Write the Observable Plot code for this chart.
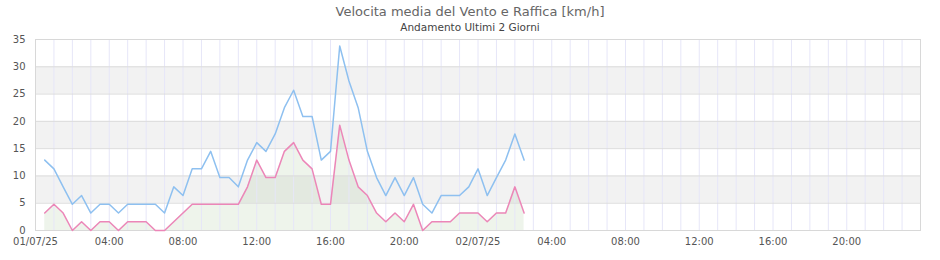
<!DOCTYPE html>
<html>
<head>
<meta charset="utf-8">
<script src="https://cdn.jsdelivr.net/npm/d3@7"></script>
<script src="https://cdn.jsdelivr.net/npm/@observablehq/plot@0.6"></script>
<style>
  html, body { margin: 0; padding: 0; background: #fff; }
</style>
</head>
<body>
<div id="chart"></div>
<script>
// --- Data (km/h), one reading every 30 minutes from 01/07/25 00:30 ---
const startTime = Date.UTC(2025, 6, 1, 0, 30);
const stepMinutes = 30;

const gustValues = [
  12.9, 11.3, 8.0, 4.8, 6.4, 3.2, 4.8, 4.8, 3.2, 4.8,
  4.8, 4.8, 4.8, 3.2, 8.0, 6.4, 11.3, 11.3, 14.5, 9.7,
  9.7, 8.0, 12.9, 16.1, 14.5, 17.7, 22.5, 25.7, 20.9, 20.9,
  12.9, 14.5, 33.8, 27.4, 22.5, 14.5, 9.7, 6.4, 9.7, 6.4,
  9.7, 4.8, 3.2, 6.4, 6.4, 6.4, 8.0, 11.3, 6.4, 9.7,
  12.9, 17.7, 12.9
];

const meanValues = [
  3.2, 4.8, 3.2, 0, 1.6, 0, 1.6, 1.6, 0, 1.6,
  1.6, 1.6, 0, 0, 1.6, 3.2, 4.8, 4.8, 4.8, 4.8,
  4.8, 4.8, 8.0, 12.9, 9.7, 9.7, 14.5, 16.1, 12.9, 11.3,
  4.8, 4.8, 19.3, 12.9, 8.0, 6.4, 3.2, 1.6, 3.2, 1.6,
  4.8, 0, 1.6, 1.6, 1.6, 3.2, 3.2, 3.2, 1.6, 3.2,
  3.2, 8.0, 3.2
];

const yTicks = [0, 5, 10, 15, 20, 25, 30, 35];
const grayBandStarts = [5, 15, 25];
const titleText = "Velocita media del Vento e Raffica [km/h]";
const subtitleText = "Andamento Ultimi 2 Giorni";

// --- Build table ---
const data = gustValues.map((g, i) => ({
  t: new Date(startTime + i * stepMinutes * 60000),
  gust: g,
  mean: meanValues[i]
}));

const x0 = new Date(Date.UTC(2025, 6, 1, 0, 0));
const x1 = new Date(Date.UTC(2025, 6, 3, 0, 0));
const xTicks = d3.utcHour.every(4).range(x0, x1);
const hourGrid = d3.utcHour.every(1).range(x0, d3.utcHour.offset(x1, 1));
const fmtDay = d3.utcFormat("%d/%m/%y");
const fmtHour = d3.utcFormat("%H:%M");
const tickFormat = d => (d.getUTCHours() === 0 ? fmtDay(d) : fmtHour(d));

const bands = grayBandStarts.map(s => ({ lo: s, hi: s + 5 }));

const chart = Plot.plot({
  width: 940,
  height: 260,
  marginLeft: 35,
  marginRight: 20,
  marginTop: 39,
  marginBottom: 30,
  style: { fontFamily: "DejaVu Sans", fontSize: "10px", color: "#555", background: "#fff" },
  x: {
    type: "utc",
    domain: [x0, x1],
    ticks: xTicks,
    tickFormat,
    tickSize: 0,
    tickPadding: 7,
    label: null
  },
  y: {
    domain: [0, 35],
    ticks: yTicks,
    tickSize: 0,
    tickPadding: 10,
    label: null
  },
  marks: [
    Plot.rect(bands, { x1: () => x0, x2: () => x1, y1: "lo", y2: "hi", fill: "#f2f2f2" }),
    Plot.areaY(data, { x: "t", y: "mean", fill: "#8fb57a", fillOpacity: 0.15 }),
    Plot.ruleX(hourGrid, { stroke: "#e6e6f8", strokeWidth: 1 }),
    Plot.ruleY(yTicks.slice(1, -1), { stroke: "#dcdcdc", strokeWidth: 1 }),
    Plot.frame({ stroke: "#d8d8d8" }),
    Plot.lineY(data, { x: "t", y: "gust", stroke: "#8ec0f0", strokeWidth: 1.5 }),
    Plot.lineY(data, { x: "t", y: "mean", stroke: "#ec86b8", strokeWidth: 1.5 }),
    Plot.text([titleText], {
      frameAnchor: "top-left", dx: 434.5, dy: -32.5, textAnchor: "middle",
      fontSize: 13, fill: "#666"
    }),
    Plot.text([subtitleText], {
      frameAnchor: "top-left", dx: 434.5, dy: -15.5, textAnchor: "middle",
      fontSize: 10.5, fill: "#444"
    })
  ]
});

document.getElementById("chart").appendChild(chart);
</script>
</body>
</html>
